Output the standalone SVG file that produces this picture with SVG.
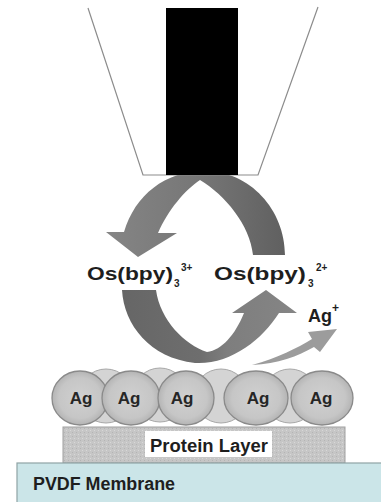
<svg xmlns="http://www.w3.org/2000/svg" width="381" height="502" viewBox="0 0 381 502">
  <defs>
    <style>
      .lbl { font-family: "Liberation Sans", Arial, sans-serif; font-weight: bold; fill: #1e1e1e; }
      .os { font-size: 18px; }
      .idx { font-size: 10px; }
      .ag { font-size: 17px; text-anchor: middle; fill: #262626; }
      .layer-txt { font-size: 18px; }
      .holder { fill: none; stroke: #8c8c8c; stroke-width: 1.2; }
      .front { fill: url(#sphere); stroke: #8a8a8a; stroke-width: 1.3; }
      .back { fill: #d4d4d4; stroke: #a8a8a8; stroke-width: 1; }
    </style>
    <linearGradient id="upperFill" gradientUnits="userSpaceOnUse" x1="107" y1="0" x2="285" y2="0">
      <stop offset="0" stop-color="#858585"/>
      <stop offset="0.5" stop-color="#777777"/>
      <stop offset="1" stop-color="#606060"/>
    </linearGradient>
    <linearGradient id="lowerFill" gradientUnits="userSpaceOnUse" x1="122" y1="0" x2="297" y2="0">
      <stop offset="0" stop-color="#666666"/>
      <stop offset="0.45" stop-color="#6e6e6e"/>
      <stop offset="0.6" stop-color="#7e7e7e"/>
      <stop offset="1" stop-color="#858585"/>
    </linearGradient>
    <radialGradient id="sphere" cx="0.5" cy="0.5" r="0.5">
      <stop offset="0" stop-color="#d0d0d0"/>
      <stop offset="0.75" stop-color="#c6c6c6"/>
      <stop offset="1" stop-color="#b4b4b4"/>
    </radialGradient>
    <pattern id="grain" width="4" height="4" patternUnits="userSpaceOnUse">
      <rect width="4" height="4" fill="#c6c6c6"/>
      <rect x="0" y="0" width="1" height="1" fill="#b4b4b4"/>
      <rect x="2" y="2" width="1" height="1" fill="#d8d8d8"/>
    </pattern>
  </defs>

  <rect width="381" height="502" fill="#ffffff"/>

  <!-- redox cycle arrows -->
  <g id="connectors">
    <!-- upper arc: Os(bpy)3 2+ oxidised at the electrode, returns as 3+ -->
    <path id="arrow-oxidation" fill="url(#upperFill)"
          d="M 285,255 C 285,210 250,171 205,171 C 165,171 135,195 124,232 L 106,232 L 138,257 L 177,233 L 158,233 C 168,210 185,190 200,180 C 225,195 250,225 253,255 Z"/>
    <!-- lower arc: 3+ reduced by the silver, returns as 2+ -->
    <path id="arrow-reduction" fill="url(#lowerFill)"
          d="M 122,290 C 124,325 150,358 195,363 C 230,365 262,340 279,313 L 297,313 L 266,290 L 232,313 L 244,313 C 235,335 222,350 207,352 C 185,345 160,320 156,290 Z"/>
    <!-- released silver ion -->
    <path id="arrow-ag-release" fill="#9c9c9c"
          d="M 252,365 C 278,364 298,356 314,347 L 320,352 L 337,329 L 308,332 L 312,339 C 297,348 278,358 252,365 Z"/>
  </g>

  <!-- electrode in its insulating holder -->
  <g id="electrode">
    <polyline class="holder" points="88,8 143,175 258,175 318,7"/>
    <rect x="166" y="8" width="72" height="167" fill="#000000"/>
  </g>

  <!-- species labels -->
  <g id="label-os3">
    <text class="lbl os" x="87" y="280" textLength="86" lengthAdjust="spacingAndGlyphs">Os(bpy)</text>
    <text class="lbl idx" x="174" y="287">3</text>
    <text class="lbl idx" x="181" y="271">3+</text>
  </g>
  <g id="label-os2">
    <text class="lbl os" x="214" y="280" textLength="92" lengthAdjust="spacingAndGlyphs">Os(bpy)</text>
    <text class="lbl idx" x="308" y="287">3</text>
    <text class="lbl idx" x="316" y="271">2+</text>
  </g>
  <g id="label-ag-ion">
    <text class="lbl" x="308" y="322" font-size="18">Ag</text>
    <text class="lbl" x="332" y="312" font-size="12">+</text>
  </g>

  <!-- protein layer -->
  <g id="protein-layer">
    <rect x="63" y="427" width="282" height="36" fill="url(#grain)" stroke="#a0a0a0" stroke-width="1"/>
    <rect x="145" y="431" width="127" height="26" fill="#ffffff"/>
    <text class="lbl layer-txt" x="150" y="452" textLength="118" lengthAdjust="spacingAndGlyphs">Protein Layer</text>
  </g>

  <!-- silver nanoparticles -->
  <g id="silver-particles">
    <circle class="back" cx="106" cy="396" r="27"/>
    <circle class="back" cx="160" cy="395" r="27"/>
    <circle class="back" cx="221" cy="396" r="27"/>
    <circle class="back" cx="290" cy="396" r="27"/>
    <g id="ag-1"><ellipse class="front" cx="80" cy="398" rx="28" ry="27"/><text class="lbl ag" x="81" y="404">Ag</text></g>
    <g id="ag-2"><ellipse class="front" cx="131" cy="398" rx="29" ry="27"/><text class="lbl ag" x="129" y="404">Ag</text></g>
    <g id="ag-3"><ellipse class="front" cx="186" cy="398" rx="28" ry="27"/><text class="lbl ag" x="182" y="404">Ag</text></g>
    <g id="ag-4"><ellipse class="front" cx="256" cy="398" rx="32" ry="27"/><text class="lbl ag" x="258" y="404">Ag</text></g>
    <g id="ag-5"><ellipse class="front" cx="322" cy="398" rx="31" ry="27"/><text class="lbl ag" x="321" y="404">Ag</text></g>
  </g>

  <!-- PVDF support membrane -->
  <g id="membrane">
    <rect x="17" y="463" width="370" height="45" fill="#cbe5e8" stroke="#8fa3a5" stroke-width="1.2"/>
    <text class="lbl layer-txt" x="33" y="490" textLength="142" lengthAdjust="spacingAndGlyphs">PVDF Membrane</text>
  </g>
</svg>
